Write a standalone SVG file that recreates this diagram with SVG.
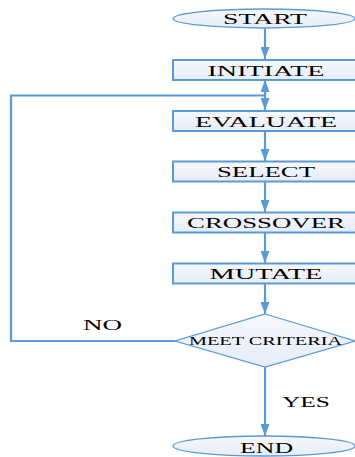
<svg xmlns="http://www.w3.org/2000/svg" width="355" height="457" viewBox="0 0 355 457">
<style>
.box{fill:url(#g);stroke:#5b9bd5;stroke-width:2}
.shape{fill:url(#g);stroke:#5b9bd5;stroke-width:1.3}
.ln{fill:none;stroke:#5b9bd5;stroke-width:2.2}
.t{font-family:"Liberation Serif","Times New Roman",serif;font-size:15px;fill:#000;text-anchor:middle}
.s{font-size:12px}
</style>
<defs>
<linearGradient id="g" x1="0" y1="0" x2="0" y2="1">
<stop offset="0" stop-color="#f6f8fc"/>
<stop offset="1" stop-color="#e6edf7"/>
</linearGradient>
<marker id="a" viewBox="0 0 12 9" refX="12" refY="4.5" markerWidth="12" markerHeight="9" markerUnits="userSpaceOnUse" orient="auto-start-reverse">
<path d="M0,0 L12,4.5 L0,9 Z" fill="#5b9bd5"/>
</marker>
</defs>
<rect width="355" height="457" fill="#fff"/>
<g id="connectors">
<line class="ln" x1="265" y1="28" x2="265" y2="59" marker-end="url(#a)"/>
<line class="ln" x1="265" y1="80" x2="265" y2="110" marker-start="url(#a)" marker-end="url(#a)"/>
<line class="ln" x1="265" y1="130" x2="265" y2="161" marker-end="url(#a)"/>
<line class="ln" x1="265" y1="182" x2="265" y2="212" marker-end="url(#a)"/>
<line class="ln" x1="265" y1="233" x2="265" y2="263" marker-end="url(#a)"/>
<line class="ln" x1="265" y1="283" x2="265" y2="314" marker-end="url(#a)"/>
<line class="ln" x1="265" y1="367" x2="265" y2="436" marker-end="url(#a)"/>
<polyline class="ln" points="175,341 11,341 11,95.5 265,95.5"/>
<text class="t" x="102.5" y="330" textLength="39" lengthAdjust="spacingAndGlyphs">NO</text>
<text class="t" x="306" y="407" textLength="48" lengthAdjust="spacingAndGlyphs">YES</text>
</g>
<g id="start">
<ellipse class="shape" cx="264" cy="18.5" rx="91" ry="9.5"/>
<text class="t" x="265" y="24" font-size="16" textLength="84" lengthAdjust="spacingAndGlyphs">START</text>
</g>
<g id="initiate">
<rect class="box" x="173" y="60" width="190" height="20"/>
<text class="t" x="266" y="75.5" textLength="117" lengthAdjust="spacingAndGlyphs">INITIATE</text>
</g>
<g id="evaluate">
<rect class="box" x="173" y="111" width="190" height="20"/>
<text class="t" x="266" y="126.5" textLength="142" lengthAdjust="spacingAndGlyphs">EVALUATE</text>
</g>
<g id="select">
<rect class="box" x="173" y="161.5" width="190" height="20"/>
<text class="t" x="266" y="176.5" textLength="98" lengthAdjust="spacingAndGlyphs">SELECT</text>
</g>
<g id="crossover">
<rect class="box" x="173" y="212.5" width="190" height="20"/>
<text class="t" x="266" y="227.5" textLength="158" lengthAdjust="spacingAndGlyphs">CROSSOVER</text>
</g>
<g id="mutate">
<rect class="box" x="173" y="263.5" width="190" height="20"/>
<text class="t" x="266" y="278.5" textLength="113" lengthAdjust="spacingAndGlyphs">MUTATE</text>
</g>
<g id="meet-criteria">
<polygon class="shape" points="265,314 355,341 265,367 175,341"/>
<text class="t s" x="265.5" y="345" textLength="153" lengthAdjust="spacingAndGlyphs">MEET CRITERIA</text>
</g>
<g id="end">
<ellipse class="shape" cx="264" cy="446" rx="91" ry="10"/>
<text class="t" x="266.5" y="453" textLength="53" lengthAdjust="spacingAndGlyphs">END</text>
</g>
</svg>
